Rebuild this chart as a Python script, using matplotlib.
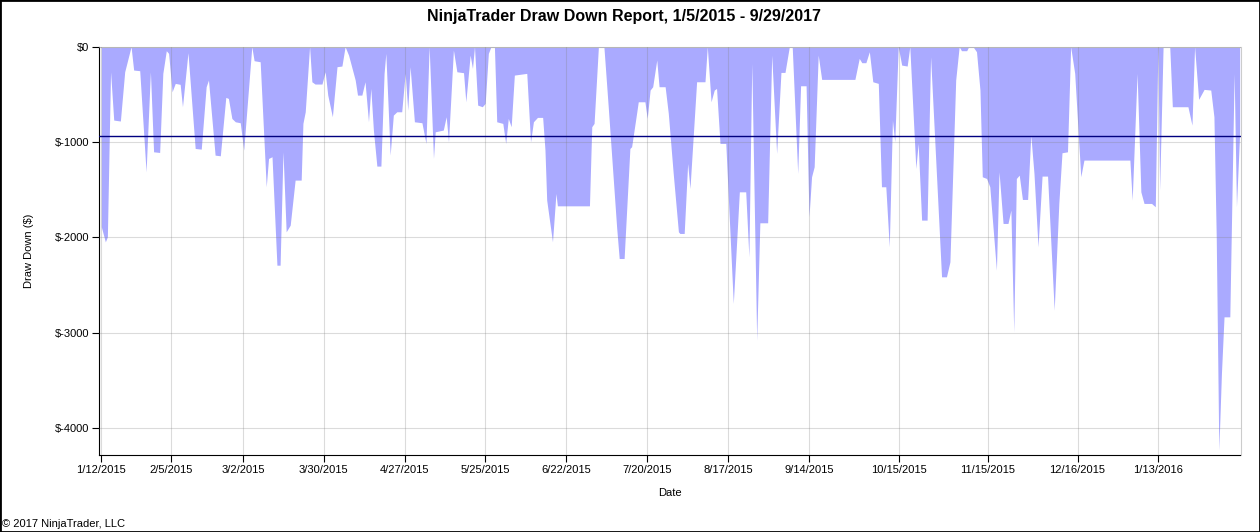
import matplotlib
matplotlib.use('Agg')
import matplotlib.pyplot as plt
from matplotlib.patches import Rectangle
import pandas as pd

plt.rcParams['font.family'] = ['Liberation Sans', 'DejaVu Sans']

# days after 1/12/2015 and draw down in dollars at that moment
days = [0, 1.4, 2.1, 3.2, 4.3, 6.6, 8.1, 10.3, 11.2, 13.3, 15.5, 17.0, 18.1, 20.2,
        21.3, 22.5, 23.3, 24.5, 25.6, 27.3, 28.1, 30.0, 32.5, 34.6, 36.3, 37.1,
        39.4, 41.2, 43.1, 44.0, 45.2, 46.4, 48.1, 49.3, 52.1, 52.9, 55.0, 57.1,
        57.9, 59.1, 60.8, 61.9, 62.9, 64.0, 65.4, 67.1, 69.2, 69.8, 70.6, 72.1,
        72.9, 74.0, 76.4, 77.5, 78.4, 80.0, 81.6, 83.3, 84.4, 85.6, 87.9, 88.7,
        90.2, 91.3, 92.5, 93.3, 94.2, 95.4, 96.8, 97.9, 98.5, 99.4, 100.0, 101.1,
        102.3, 104.0, 105.2, 106.1, 106.9, 108.4, 111.0, 112.4, 113.5, 115.0,
        115.6, 118.4, 119.4, 120.2, 121.9, 123.1, 125.4, 126.2, 127.7, 128.5,
        129.2, 130.3, 131.9, 132.9, 134.0, 134.9, 136.1, 136.9, 139.0, 140.0,
        140.9, 141.9, 143.0, 147.3, 148.6, 149.6, 151.0, 152.8, 153.6, 154.2,
        156.2, 157.4, 157.9, 169.0, 169.8, 170.6, 172.1, 174.0, 175.5, 178.4,
        179.3, 181.0, 183.0, 183.6, 185.4, 185.9, 188.2, 189.0, 190.0, 190.9,
        192.3, 193.1, 195.2, 196.3, 198.0, 199.8, 200.3, 201.8, 203.0, 203.8,
        206.1, 209.0, 209.8, 211.1, 212.2, 213.0, 214.2, 216.2, 218.8, 220.9,
        223.1, 224.2, 225.2, 226.9, 228.0, 230.7, 232.1, 233.8, 235.3, 236.7,
        238.2, 239.2, 241.1, 242.1, 244.0, 245.0, 245.9, 246.8, 248.2, 249.4,
        260.9, 262.4, 263.3, 264.7, 265.9, 267.1, 269.0, 270.1, 271.6, 272.8,
        273.9, 274.7, 275.9, 277.1, 279.0, 279.9, 282.0, 282.8, 284.0, 285.9,
        287.1, 290.9, 292.6, 293.8, 295.8, 297.0, 297.8, 299.6, 300.3, 301.8,
        303.0, 304.2, 305.0, 306.5, 307.6, 309.9, 310.8, 312.2, 313.9, 314.9,
        315.9, 316.8, 317.8, 318.9, 320.7, 321.8, 322.9, 324.3, 325.7, 327.6,
        329.9, 331.5, 332.6, 334.5, 335.6, 337.0, 339.1, 340.2, 356.1, 356.9,
        358.6, 359.9, 361.0, 363.6, 364.9, 365.8, 366.4, 367.6, 369.9, 370.8,
        376.2, 377.6, 378.5, 379.9, 381.8, 384.1, 385.2, 386.0, 386.9, 387.8,
        388.7, 390.7, 392.2, 393.0, 394.1]

drawdown = [-1890, -2048, -1995, -263, -770, -780, -263, 0, -245, -252, -1313, -263, -1103, -1110,
            -280, -42, -70, -473, -385, -395, -630, -63, -1068, -1075, -420, -350,
            -1138, -1145, -532, -543, -753, -788, -798, -1085, 0, -147, -158, -1470,
            -1173, -1155, -2293, -2293, -1103, -1943, -1873, -1400, -1400, -805, -683, 0,
            -368, -392, -392, -263, -508, -735, -210, -203, 0, -88, -350, -508,
            -508, -368, -788, -438, -875, -1253, -1253, -280, -70, -700, -1138, -718,
            -683, -683, -280, -665, -210, -788, -798, -1015, 0, -1173,
            -893, -875, -735, -998, -35, -263, -273, -578, -88, -228,
            0, -613, -630, -595, -70, 0, 0, -788, -805, -1015,
            -753, -840, -298, -280, -1000, -788, -742, -742, -1085, -1610,
            -2048, -1540, -1670, -1670, -840, -805, 0, 0, -630, -1890,
            -2223, -2223, -1068, -1050, -683, -578, -578, -753, -455, -420,
            -140, -420, -420, -700, -1330, -1943, -1960, -1960, -1225, -1488,
            -368, -368, 0, -578, -455, -438, -1015, -1015, -2695, -1523,
            -1523, -2205, -175, -3080, -1848, -1848, -88, -1120, -270, -270,
            0, 0, -1330, -410, -410, -1785, -1365, -1260, -88, -343,
            -343, -123, -168, -168, -53, -368, -385, -1470, -1470, -2100,
            -770, -998, 0, -193, -203, 0, -1278, -1015, -1820, -1820,
            -105, -2415, -2415, -2258, -350, 0, -42, -42, 0, 0,
            -53, -455, -1365, -1383, -1470, -2345, -1313, -1855, -1855, -1715,
            -2995, -1383, -1348, -1603, -1603, -928, -1330, -2100, -1358, -1358,
            -2765, -1645, -1113, -1103, 0, -280, -1365, -1190, -1190, -1610,
            -280, -1523, -1645, -1645, -1680, 0, -1505, 0, 0, -630,
            -630, -823, 0, -553, -448, -455, -735, -1995, -4235, -3430,
            -2835, -2835, -280, -1680, -910]

avg_drawdown = -932

tick_dates = ['2015-01-12', '2015-02-05', '2015-03-02', '2015-03-30', '2015-04-27',
              '2015-05-25', '2015-06-22', '2015-07-20', '2015-08-17', '2015-09-14',
              '2015-10-15', '2015-11-15', '2015-12-16', '2016-01-13']
y_ticks = [0, -1000, -2000, -3000, -4000]

start = pd.Timestamp('2015-01-12')
x = start + pd.to_timedelta(days, unit='D')
ticks = pd.to_datetime(tick_dates)

fig = plt.figure(figsize=(12.6, 5.32), dpi=100)
ax = fig.add_axes([99 / 1260, 1 - 455 / 532, (1240.5 - 99) / 1260, (455 - 46.7) / 532])

ax.fill_between(x, drawdown, 0, color='#aaaaff', linewidth=0, zorder=1)
ax.axhline(avg_drawdown, color='#000080', linewidth=1, zorder=3)

ax.set_xlim(start - pd.Timedelta(days=0.8), start + pd.Timedelta(days=394.4))
ax.set_ylim(-4285, 0)

ax.set_xticks(ticks)
ax.set_xticklabels([f'{d.month}/{d.day}/{d.year}' for d in ticks])
ax.set_yticks(y_ticks)
ax.set_yticklabels([f'${v}' for v in y_ticks])
ax.tick_params(axis='both', labelsize=8, length=5, color='black', direction='out', pad=2)

ax.grid(True, color='gray', alpha=0.28, linewidth=0.8, zorder=2)
ax.set_axisbelow(False)
for side in ['left', 'bottom']:
    ax.spines[side].set_color('black')
for side in ['top', 'right']:
    ax.spines[side].set_color('#cccccc')

ax.set_xlabel('Date', fontsize=8)
ax.xaxis.set_label_coords(0.5, -0.081)
ax.set_ylabel('Draw Down ($)', fontsize=8)
ax.yaxis.set_label_coords(-0.057, 0.5)
fig.text(0.495, 1 - 17 / 532, 'NinjaTrader Draw Down Report, 1/5/2015 - 9/29/2017',
         ha='center', va='center', fontsize=11.5, fontweight='bold')
fig.text(2 / 1260, 1 - 524 / 532, '\u00a9 2017 NinjaTrader, LLC', ha='left', va='center', fontsize=8)

fig.patches.append(Rectangle((0, 0), 1, 1, transform=fig.transFigure, fill=False,
                             edgecolor='black', linewidth=2))

fig.savefig('out.png', dpi=100)
